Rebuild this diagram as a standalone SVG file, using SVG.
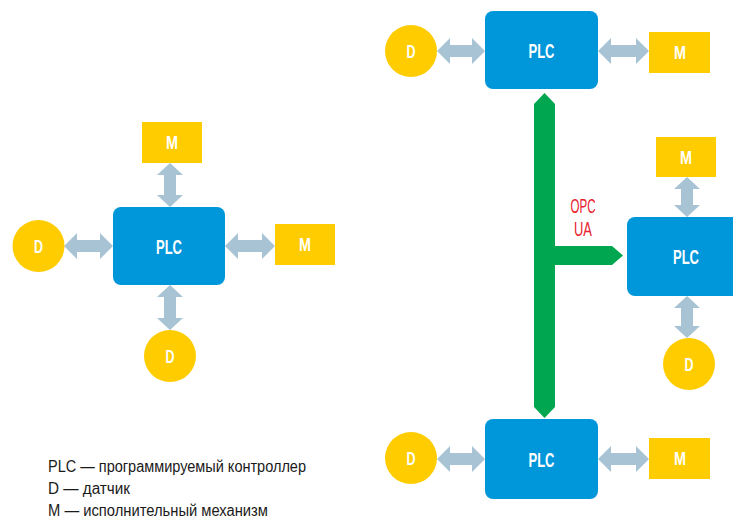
<svg xmlns="http://www.w3.org/2000/svg" width="733" height="522" viewBox="0 0 733 522">
  <style>
    .plc { fill: #0096DA; }
    .dev { fill: #FFCC00; }
    .link { fill: #A8C4D4; }
    .bus { fill: #00A650; }
    .lbl { font-family: "Liberation Sans", Arial, sans-serif; font-weight: bold; fill: #FFFFFF; text-anchor: middle; }
    .big { font-size: 20px; }
    .small { font-size: 18px; }
    .opc { font-family: "Liberation Sans", Arial, sans-serif; font-size: 20px; fill: #E8212E; text-anchor: middle; }
    .legend { font-family: "Liberation Sans", Arial, sans-serif; font-size: 16px; fill: #1A1A1A; }
  </style>

  <!-- Connectors: two-way links and the OPC UA bus -->
  <g id="connectors">
    <!-- left cluster -->
    <path class="link" d="M170,163 L183,175 L176,175 L176,195 L183,195 L170,207 L157,195 L164,195 L164,175 L157,175 Z"/>
    <path class="link" d="M170,285 L183,297 L176,297 L176,318 L183,318 L170,330 L157,318 L164,318 L164,297 L157,297 Z"/>
    <path class="link" d="M64,246 L77,233 L77,240 L100,240 L100,233 L113,246 L100,259 L100,252 L77,252 L77,259 Z"/>
    <path class="link" d="M225,246 L238,233 L238,240 L262,240 L262,233 L275,246 L262,259 L262,252 L238,252 L238,259 Z"/>
    <!-- top right cluster -->
    <path class="link" d="M437,51 L450,38 L450,45 L472,45 L472,38 L485,51 L472,64 L472,57 L450,57 L450,64 Z"/>
    <path class="link" d="M598,51 L611,38 L611,45 L636,45 L636,38 L649,51 L636,64 L636,57 L611,57 L611,64 Z"/>
    <!-- middle right cluster -->
    <path class="link" d="M687,177 L700,189 L693,189 L693,205 L700,205 L687,217 L674,205 L681,205 L681,189 L674,189 Z"/>
    <path class="link" d="M687,296 L700,308 L693,308 L693,326 L700,326 L687,338 L674,326 L681,326 L681,308 L674,308 Z"/>
    <!-- bottom right cluster -->
    <path class="link" d="M437,459 L450,446 L450,453 L472,453 L472,446 L485,459 L472,472 L472,465 L450,465 L450,472 Z"/>
    <path class="link" d="M598,459 L611,446 L611,453 L636,453 L636,446 L649,459 L636,472 L636,465 L611,465 L611,472 Z"/>
    <!-- OPC UA bus -->
    <polygon class="bus" points="534,104 544.5,93 555,104 555,246 612,246 623,255.5 612,265 555,265 555,407 544.5,418 534,407"/>
    <text class="opc" x="583" y="213" textLength="25" lengthAdjust="spacingAndGlyphs">OPC</text>
    <text class="opc" x="583" y="236" textLength="18" lengthAdjust="spacingAndGlyphs">UA</text>
  </g>

  <!-- Left cluster -->
  <g id="plc-left">
    <rect class="plc" x="113" y="207" width="112" height="78" rx="8"/>
    <text class="lbl big" x="169" y="253.5" textLength="26" lengthAdjust="spacingAndGlyphs">PLC</text>
  </g>
  <g id="m-left-top">
    <rect class="dev" x="142" y="122" width="60" height="41"/>
    <text class="lbl small" x="172" y="149" textLength="12" lengthAdjust="spacingAndGlyphs">M</text>
  </g>
  <g id="m-left-right">
    <rect class="dev" x="275" y="224" width="60" height="41"/>
    <text class="lbl small" x="305" y="251" textLength="12" lengthAdjust="spacingAndGlyphs">M</text>
  </g>
  <g id="d-left-left">
    <circle class="dev" cx="38.5" cy="246" r="26"/>
    <text class="lbl small" x="38.5" y="252.5" textLength="9" lengthAdjust="spacingAndGlyphs">D</text>
  </g>
  <g id="d-left-bottom">
    <circle class="dev" cx="170" cy="356" r="26"/>
    <text class="lbl small" x="170" y="362.5" textLength="9" lengthAdjust="spacingAndGlyphs">D</text>
  </g>

  <!-- Top right cluster -->
  <g id="plc-top">
    <rect class="plc" x="485" y="11" width="113" height="78" rx="8"/>
    <text class="lbl big" x="541.5" y="58" textLength="26" lengthAdjust="spacingAndGlyphs">PLC</text>
  </g>
  <g id="d-top">
    <circle class="dev" cx="411" cy="51" r="26"/>
    <text class="lbl small" x="411" y="57.5" textLength="9" lengthAdjust="spacingAndGlyphs">D</text>
  </g>
  <g id="m-top">
    <rect class="dev" x="649" y="32" width="61" height="41"/>
    <text class="lbl small" x="680" y="59" textLength="12" lengthAdjust="spacingAndGlyphs">M</text>
  </g>

  <!-- Middle right cluster -->
  <g id="plc-mid">
    <rect class="plc" x="627" y="217" width="113" height="79" rx="8"/>
    <text class="lbl big" x="686" y="264" textLength="26" lengthAdjust="spacingAndGlyphs">PLC</text>
  </g>
  <g id="m-mid">
    <rect class="dev" x="656" y="137" width="60" height="40"/>
    <text class="lbl small" x="686" y="163.5" textLength="12" lengthAdjust="spacingAndGlyphs">M</text>
  </g>
  <g id="d-mid">
    <circle class="dev" cx="689" cy="364" r="26"/>
    <text class="lbl small" x="689" y="370.5" textLength="9" lengthAdjust="spacingAndGlyphs">D</text>
  </g>

  <!-- Bottom right cluster -->
  <g id="plc-bottom">
    <rect class="plc" x="485" y="419" width="113" height="80" rx="8"/>
    <text class="lbl big" x="541.5" y="466.5" textLength="26" lengthAdjust="spacingAndGlyphs">PLC</text>
  </g>
  <g id="d-bottom">
    <circle class="dev" cx="411" cy="458" r="26"/>
    <text class="lbl small" x="411" y="464.5" textLength="9" lengthAdjust="spacingAndGlyphs">D</text>
  </g>
  <g id="m-bottom">
    <rect class="dev" x="649" y="438" width="61" height="41"/>
    <text class="lbl small" x="680" y="465" textLength="12" lengthAdjust="spacingAndGlyphs">M</text>
  </g>

  <!-- Legend -->
  <g id="legend">
    <text class="legend" x="48" y="472" textLength="258" lengthAdjust="spacingAndGlyphs">PLC — программируемый контроллер</text>
    <text class="legend" x="48" y="494" textLength="82" lengthAdjust="spacingAndGlyphs">D — датчик</text>
    <text class="legend" x="48" y="516" textLength="220" lengthAdjust="spacingAndGlyphs">M — исполнительный механизм</text>
  </g>
</svg>
